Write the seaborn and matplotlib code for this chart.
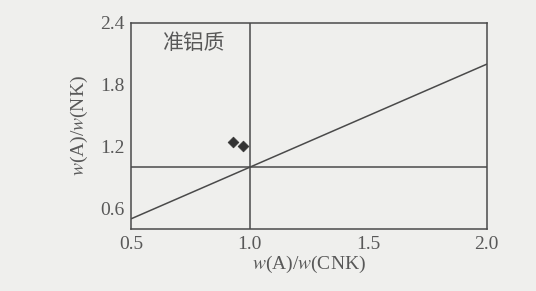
import seaborn as sns
import matplotlib.pyplot as plt
import pandas as pd

# sample points, A/CNK vs A/NK
a_cnk = [0.93, 0.97]
a_nk = [1.24, 1.21]

# reference lines
line_x = [0.5, 2.0]
line_y = [0.5, 2.0]   # A/NK = A/CNK
xticks = [0.5, 1.0, 1.5, 2.0]
yticks = [0.6, 1.2, 1.8, 2.4]
region_label = "准铝质"

sns.set_theme(style="white")
plt.rcParams["font.family"] = ["Liberation Serif", "Noto Sans CJK SC"]
plt.rcParams["mathtext.fontset"] = "stix"

bg = "#efefed"
ink = "#4a4a4a"
txt = "#585858"

fig = plt.figure(figsize=(5.36, 2.91), dpi=100, facecolor=bg)
ax = fig.add_axes([0.245, 0.213, 0.663, 0.708], facecolor=bg)

df = pd.DataFrame({"acnk": a_cnk, "ank": a_nk})
sns.lineplot(x=line_x, y=line_y, ax=ax, color=ink, lw=1.1)
ax.axhline(1.0, color=ink, lw=1.1)
ax.axvline(1.0, color=ink, lw=1.1)
sns.scatterplot(data=df, x="acnk", y="ank", ax=ax, marker="D", s=30,
                color="#333333", edgecolor="#333333", linewidth=0.5, zorder=5)

ax.set_xlim(0.5, 2.0)
ax.set_ylim(0.4, 2.4)
ax.set_xticks(xticks)
ax.set_yticks(yticks)
ax.set_xticklabels([f"{v:.1f}" for v in xticks])
ax.set_yticklabels([f"{v:.1f}" for v in yticks])
ax.tick_params(direction="in", length=5, width=1, color=ink, labelsize=14,
               labelcolor=txt, pad=5)
for s in ax.spines.values():
    s.set_color(ink)
    s.set_linewidth(1.1)

ax.set_xlabel(r"$w$(A)/$w$(CNK)", fontsize=14, color=txt, labelpad=1)
ax.set_ylabel(r"$w$(A)/$w$(NK)", fontsize=14, color=txt, labelpad=7)

ax.text(0.635, 2.21, region_label, fontsize=15, color=txt,
        family=["Noto Sans CJK SC", "DejaVu Sans"], va="center")

fig.savefig("out.png", dpi=100, facecolor=bg)
